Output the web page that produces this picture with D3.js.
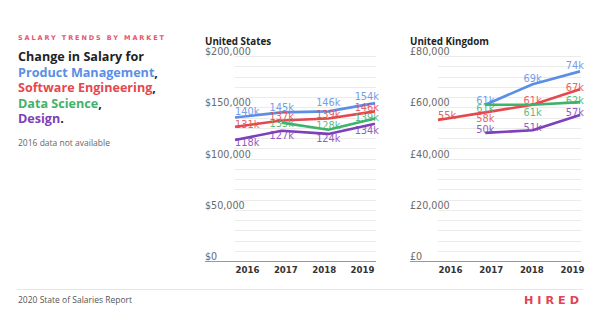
<!DOCTYPE html>
<html><head><meta charset="utf-8">
<script src="https://cdn.jsdelivr.net/npm/d3@7/dist/d3.min.js"></script>
<style>
body{margin:0;background:#fff;}
svg{display:block;}
</style></head>
<body><svg id="c" width="600" height="329"></svg>
<script>
// ---- data ----
const years = ["2016","2017","2018","2019"];
const seriesNames = ["Product Management","Software Engineering","Data Science","Design"];
const seriesColors = ["#5b8ee6","#e5484d","#3fb36b","#7e3fb8"];
// US salaries (USD), null = not available
const usPM     = [140000,145000,146000,154000];
const usSE     = [131000,137000,139000,146000];
const usDS     = [null,135000,128000,139000];
const usDesign = [118000,127000,124000,134000];
// UK salaries (GBP)
const ukPM     = [null,61000,69000,74000];
const ukSE     = [55000,58000,61000,67000];
const ukDS     = [null,61000,61000,62000];
const ukDesign = [null,50000,51000,57000];
const usTicks = [0,50000,100000,150000,200000];
const ukTicks = [0,20000,40000,60000,80000];

const svg = d3.select("#c");
const FONT = "'DejaVu Sans', sans-serif";
const FONT2 = "'Open Sans', sans-serif";

// ---- left header ----
const hdr = svg.append("g");
hdr.append("text").attr("x",18).attr("y",40).text("SALARY TRENDS BY MARKET")
  .attr("font-family",FONT).attr("font-weight","bold").attr("font-size",6.5)
  .attr("letter-spacing",1.9).attr("fill","#e8556a");
const headLines = [["Change in Salary for","#222"],["Product Management,",seriesColors[0]],
  ["Software Engineering,",seriesColors[1]],["Data Science,",seriesColors[2]],["Design.",seriesColors[3]]];
headLines.forEach((d,i)=>{
  const t = hdr.append("text").attr("x",18).attr("y",61+i*15.6)
   .attr("font-family",FONT2).attr("font-weight","bold").attr("font-size",12.6).attr("fill",d[1]);
  const name = d[0].replace(/[,.]$/,"");
  const punct = d[0].slice(name.length);
  t.append("tspan").text(name);
  if(punct) t.append("tspan").attr("fill","#222").text(punct);
});
hdr.append("text").attr("x",18).attr("y",146).text("2016 data not available")
  .attr("font-family",FONT2).attr("font-size",8.5).attr("fill","#666");

// ---- panels ----
function panel(cfg){
  const g = svg.append("g");
  const y = d3.scaleLinear().domain([0,cfg.max]).range([261,56]);
  const x = d3.scalePoint().domain(years).range(cfg.lineX);
  const xl = d3.scalePoint().domain(years).range(cfg.labelX);
  const grid = d3.range(cfg.step, cfg.max+1, cfg.step);
  g.selectAll(".grid").data(grid).join("line")
    .attr("x1",cfg.lineX[0]).attr("x2",cfg.lineX[1]+1)
    .attr("y1",d=>Math.round(y(d))+0.5).attr("y2",d=>Math.round(y(d))+0.5)
    .attr("stroke","#ebebeb").attr("stroke-width",1);
  g.append("line").attr("x1",cfg.axisX0).attr("x2",cfg.lineX[1]+1)
    .attr("y1",y(0)+0.5).attr("y2",y(0)+0.5).attr("stroke","#999").attr("stroke-width",1);
  g.selectAll(".yt").data(cfg.ticks).join("text")
    .attr("x",cfg.axisX0).attr("y",d=>y(d)-1)
    .attr("font-family",FONT).attr("font-size",9.6).attr("fill","#6a6a6a")
    .text(d=>cfg.cur + d3.format(",")(d));
  g.append("text").attr("x",cfg.axisX0).attr("y",45).text(cfg.title)
    .attr("font-family",FONT2).attr("font-weight","bold").attr("font-size",9.8).attr("fill","#222");
  const ax = g.append("g").attr("transform",`translate(0,${y(0)})`)
    .call(d3.axisBottom(xl).tickSize(0).tickPadding(0));
  ax.select(".domain").remove();
  ax.selectAll("text").attr("dy",12).attr("font-family",FONT).attr("font-weight","bold")
    .attr("font-size",8.6).attr("fill","#333");
  const line = d3.line().defined(d=>d.v!=null).x(d=>x(d.yr)).y(d=>y(d.v));
  cfg.series.forEach((s,i)=>{
    const pts = years.map((yr,j)=>({yr,v:s[j],j}));
    g.append("path").attr("d",line(pts)).attr("fill","none")
      .attr("stroke",seriesColors[i]).attr("stroke-width",2.6).attr("stroke-linejoin","round");
    const valid = pts.filter(d=>d.v!=null);
    g.selectAll(null).data(valid).join("text")
      .attr("x",d=> d.j===0 ? x(d.yr) : d.j===3 ? x(d.yr)+4 : x(d.yr))
      .attr("text-anchor",d=> d.j===0 ? "start" : d.j===3 ? "end" : "middle")
      .attr("y",d=>y(d.v)+cfg.dy[i][d.j])
      .attr("font-family",FONT).attr("font-size",9.8).attr("fill",seriesColors[i]).attr("opacity",0.85)
      .text(d=>Math.round(d.v/1000)+"k");
  });
}
panel({title:"United States", cur:"$", max:200000, step:10000, ticks:usTicks,
  lineX:[235,375], labelX:[247,362], axisX0:205,
  series:[usPM,usSE,usDS,usDesign],
  dy:[[-3,-1,-5,-3],[1,-1,-1,0],[0,4,-1,2],[6,8,8,10]]});
panel({title:"United Kingdom", cur:"£", max:80000, step:4000, ticks:ukTicks,
  lineX:[438,580], labelX:[450,572], axisX0:410,
  series:[ukPM,ukSE,ukDS,ukDesign],
  dy:[[0,-1,-2,-2],[-1,10,-1,2],[0,7,11,2],[0,0,1,1]]});

// ---- footer ----
svg.append("line").attr("x1",17).attr("x2",583).attr("y1",289.5).attr("y2",289.5)
  .attr("stroke","#e6e6e6");
svg.append("text").attr("x",18).attr("y",303).text("2020 State of Salaries Report")
  .attr("font-family",FONT2).attr("font-size",8.5).attr("fill","#555");
svg.append("text").attr("x",583).attr("y",304).attr("text-anchor","end").text("HIRED")
  .attr("font-family",FONT).attr("font-weight","bold").attr("font-size",11.2)
  .attr("letter-spacing",4).attr("fill","#e0435a");
</script></body></html>
